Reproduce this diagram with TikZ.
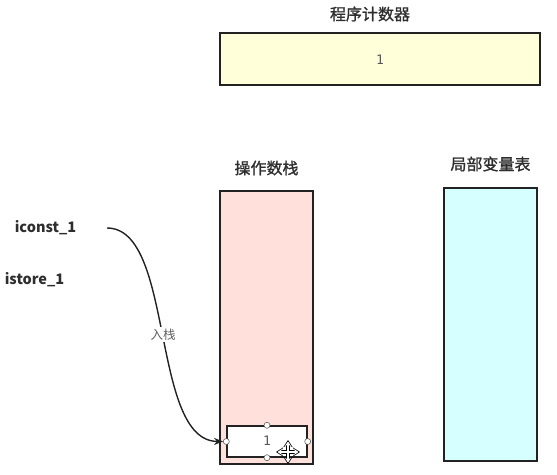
\documentclass[tikz,border=0pt]{standalone}
\usepackage{fontspec}
\setmainfont{Noto Sans CJK SC}
\newfontfamily\titlefont[FakeBold=1.2]{Noto Sans CJK SC}
\newfontfamily\valfont{DejaVu Sans Mono}
\usetikzlibrary{arrows.meta}
\definecolor{pcfill}{HTML}{FFFFD9}
\definecolor{stackfill}{HTML}{FFE0DA}
\definecolor{varfill}{HTML}{D6FFFF}
\definecolor{edge}{HTML}{222222}
\definecolor{txt}{HTML}{2E2E2E}
\tikzset{
  box/.style={draw=edge, line width=1.6pt, inner sep=0pt},
  title/.style={font=\titlefont\fontsize{16}{18}\selectfont, text=txt},
  instr/.style={font=\fontsize{14.5}{16}\selectfont\bfseries, text=txt},
  val/.style={font=\valfont\fontsize{13}{15}\selectfont, text=txt!80},
  handle/.style={circle, draw=edge!80, fill=white, line width=0.5pt, minimum size=6pt, inner sep=0pt},
  flow/.style={draw=edge, line width=1.4pt, -{Stealth[length=9pt,width=7pt]}},
}
\begin{document}
\begin{tikzpicture}[x=1pt,y=-1pt]
\useasboundingbox (0,0) rectangle (557,474);
% program counter
\node[title] (pct) at (370,14) {程序计数器};
\node[box, fill=pcfill, minimum width=320pt, minimum height=52pt] (pc) at (380,59) {};
\node[val] (pcv) at (380,60) {1};
% operand stack
\node[title] (stt) at (266.5,168) {操作数栈};
\node[box, fill=stackfill, minimum width=93pt, minimum height=273pt] (stack) at (266.5,327.5) {};
% local variable table
\node[title] (lvt) at (490.5,164) {局部变量表};
\node[box, fill=varfill, minimum width=93pt, minimum height=273pt] (vars) at (490.5,324.5) {};
% instructions
\node[instr] (ic) at (45.5,228) {iconst\_1};
\node[instr] (is) at (34.5,280) {istore\_1};
% element in stack
\node[box, fill=white, line width=1.4pt, minimum width=80pt, minimum height=31pt] (elem) at (267,441.5) {};
\node[val] (ev) at (267,441) {1};
\node[handle] (h1) at (elem.north) {};
\node[handle] (h2) at (elem.south) {};
\node[handle] (h3) at (elem.west) {};
\node[handle] (h4) at (elem.east) {};
% arrow
\coordinate (s) at (107,228);
\path[flow] (s) .. controls (175,228) and (150,441) .. (h3.west)
  node[pos=0.5, fill=white, inner sep=1.5pt, font=\fontsize{12.5}{14}\selectfont, text=txt!75] (lab) {入栈};
% move cursor
\coordinate (mc) at (288,452);
\draw[line width=3.4pt, black, {Stealth[length=7pt,width=9pt]}-{Stealth[length=7pt,width=9pt]}] ([xshift=-12pt]mc) -- ([xshift=12pt]mc);
\draw[line width=3.4pt, black, {Stealth[length=7pt,width=9pt]}-{Stealth[length=7pt,width=9pt]}] ([yshift=-12pt]mc) -- ([yshift=12pt]mc);
\draw[line width=1.6pt, white, {Stealth[length=4.5pt,width=6pt]}-{Stealth[length=4.5pt,width=6pt]}] ([xshift=-10.5pt]mc) -- ([xshift=10.5pt]mc);
\draw[line width=1.6pt, white, {Stealth[length=4.5pt,width=6pt]}-{Stealth[length=4.5pt,width=6pt]}] ([yshift=-10.5pt]mc) -- ([yshift=10.5pt]mc);
\end{tikzpicture}
\end{document}
